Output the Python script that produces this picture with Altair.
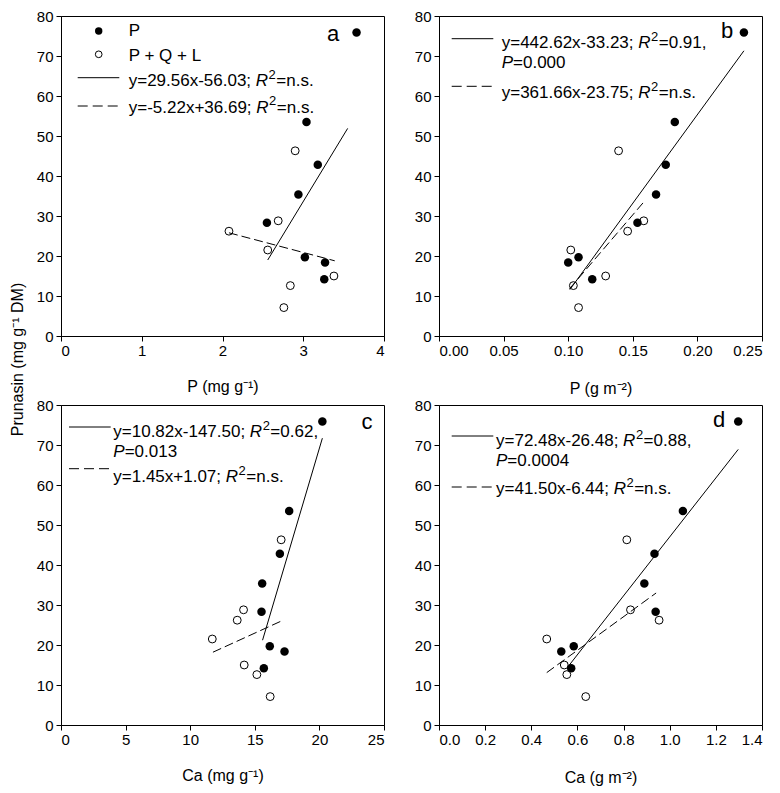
import altair as alt
import pandas as pd

FONT = "Liberation Sans"

# ---- data ----
prunasin_P = [75.9, 53.5, 42.8, 35.4, 28.3, 19.7, 18.4, 14.2]
prunasin_PQL = [46.3, 28.8, 26.2, 21.5, 15.0, 12.6, 7.1]

a_P_x = [3.66, 3.04, 3.18, 2.94, 2.55, 3.02, 3.27, 3.26]
a_PQL_x = [2.90, 2.69, 2.08, 2.56, 3.38, 2.84, 2.76]
b_P_x = [0.236, 0.1825, 0.1755, 0.168, 0.1536, 0.108, 0.100, 0.1186]
b_PQL_x = [0.139, 0.1585, 0.146, 0.102, 0.129, 0.104, 0.108]
c_P_x = [20.23, 17.66, 16.94, 15.57, 15.52, 16.16, 17.30, 15.70]
c_PQL_x = [17.04, 14.13, 13.64, 11.71, 14.18, 15.16, 16.19]
d_P_x = [1.297, 1.057, 0.934, 0.890, 0.939, 0.584, 0.530, 0.573]
d_PQL_x = [0.814, 0.830, 0.954, 0.467, 0.543, 0.554, 0.636]

# regression lines: end points (x, y)
a_fitP_x, a_fitP_y = [2.56, 3.55], [19.0, 51.9]
a_fitQ_x, a_fitQ_y = [2.08, 3.39], [25.8, 18.8]
b_fitP_x, b_fitP_y = [0.1013, 0.236], [11.6, 71.3]
b_fitQ_x, b_fitQ_y = [0.101, 0.1585], [11.8, 33.5]
c_fitP_x, c_fitP_y = [15.6, 20.23], [21.2, 71.7]
c_fitQ_x, c_fitQ_y = [11.76, 16.99], [18.2, 25.9]
d_fitP_x, d_fitP_y = [0.565, 1.297], [15.0, 68.9]
d_fitQ_x, d_fitQ_y = [0.467, 0.941], [13.1, 33.0]

y_ticks = [0, 10, 20, 30, 40, 50, 60, 70, 80]
a_ticks = [0, 1, 2, 3, 4]
b_ticks = [0.00, 0.05, 0.10, 0.15, 0.20, 0.25]
c_ticks = [0, 5, 10, 15, 20, 25]
d_ticks = [0.0, 0.2, 0.4, 0.6, 0.8, 1.0, 1.2, 1.4]

# ---- text helpers ----
W = {' ': 278, '(': 333, ')': 333, '+': 584, ',': 278, '-': 333, '.': 278,
     ';': 278, '=': 584, 'P': 667, 'Q': 778, 'L': 556, 'R': 722, 'y': 500,
     'x': 500, 'n': 556, 's': 500}
for dch in "0123456789":
    W[dch] = 556

LEG = 17
SUP = 13
dummy = pd.DataFrame({"k": [0]})


def width(s, size):
    return sum(W.get(ch, 556) for ch in s) * size / 1000.0


def txt(s, x, y, size=LEG, italic=False, align="left"):
    return alt.Chart(dummy).mark_text(
        text=s, align=align, baseline="alphabetic", font=FONT, fontSize=size,
        fontStyle="italic" if italic else "normal", color="black"
    ).encode(x=alt.value(x), y=alt.value(y))


def rich(segs, x0, y0):
    layers = []
    x = x0
    for s, kind in segs:
        if kind == "s":
            layers.append(txt(s, x + 0.5, y0 - 7.5, size=SUP))
            x += width(s, SUP) + 1
        else:
            layers.append(txt(s, x, y0, italic=(kind == "i")))
            x += width(s, LEG)
    return layers


def rule(x1, x2, y, dashed=False):
    kw = {"strokeDash": [10, 5]} if dashed else {}
    return alt.Chart(dummy).mark_rule(color="black", strokeWidth=1, **kw).encode(
        x=alt.value(x1), x2=alt.value(x2), y=alt.value(y))


def eq(text, tail):
    return [(text, "n"), ("R", "i"), ("2", "s"), (tail, "n")]


PW, PH = 323, 320


def panel(px, qx, fpx, fpy, fqx, fqy, xdom, xticks, xfmt, xtitle, xtitleY,
          letter, lpos, legend, ytitle=None):
    xsc = alt.Scale(domain=xdom, nice=False, zero=False)
    ysc = alt.Scale(domain=[0, 80], nice=False, zero=False)
    xax = alt.Axis(values=xticks, format=xfmt, title=xtitle, titleY=xtitleY,
                   titleBaseline="alphabetic")
    if ytitle:
        yax = alt.Axis(values=y_ticks, title=ytitle, titleX=-44, titleY=343,
                       titleAngle=270, titleAlign="center", titleBaseline="middle")
    else:
        yax = alt.Axis(values=y_ticks, title=None)
    X = alt.X("x:Q", scale=xsc, axis=xax)
    Y = alt.Y("y:Q", scale=ysc, axis=yax)

    dfP = pd.DataFrame({"x": px, "y": prunasin_P})
    dfQ = pd.DataFrame({"x": qx, "y": prunasin_PQL})
    dfFP = pd.DataFrame({"x": fpx, "y": fpy})
    dfFQ = pd.DataFrame({"x": fqx, "y": fqy})

    layers = [
        alt.Chart(dfQ).mark_point(shape="circle", filled=False, color="black",
                                  strokeWidth=1, size=62, opacity=1).encode(x=X, y=Y),
        alt.Chart(dfFP).mark_line(color="black", strokeWidth=1).encode(x=X, y=Y),
        alt.Chart(dfFQ).mark_line(color="black", strokeWidth=1,
                                  strokeDash=[9, 4]).encode(x=X, y=Y),
        alt.Chart(dfP).mark_circle(color="black", size=72, opacity=1).encode(x=X, y=Y),
    ]
    layers += legend
    layers.append(txt(letter, lpos[0], lpos[1], size=22, align="center"))
    return alt.layer(*layers).properties(width=PW, height=PH)


# legends
leg_a = [
    alt.Chart(dummy).mark_circle(color="black", size=55, opacity=1).encode(
        x=alt.value(37.7), y=alt.value(15)),
    alt.Chart(dummy).mark_point(shape="circle", filled=False, color="black",
                                strokeWidth=1, size=45, opacity=1).encode(
        x=alt.value(37.7), y=alt.value(38.3)),
    txt("P", 67.7, 20),
    txt("P + Q + L", 67.7, 45),
    rule(16.7, 58.3, 61.7),
    rule(16.7, 58.3, 90, dashed=True),
] + rich(eq("y=29.56x-56.03; ", "=n.s."), 67.7, 70) \
  + rich(eq("y=-5.22x+36.69; ", "=n.s."), 67.7, 96.7)

leg_b = [
    rule(12.7, 54.3, 22.7),
    rule(12.7, 54.3, 70.3, dashed=True),
] + rich(eq("y=442.62x-33.23; ", "=0.91,"), 62.7, 32) \
  + rich([("P", "i"), ("=0.000", "n")], 62.7, 52) \
  + rich(eq("y=361.66x-23.75; ", "=n.s."), 62.7, 82)

leg_c = [
    rule(8, 49.7, 22),
    rule(8, 49.7, 63.7, dashed=True),
] + rich(eq("y=10.82x-147.50; ", "=0.62,"), 52.3, 32) \
  + rich([("P", "i"), ("=0.013", "n")], 52.3, 52) \
  + rich(eq("y=1.45x+1.07; ", "=n.s."), 52.3, 77)

leg_d = [
    rule(12.7, 54.3, 31),
    rule(12.7, 54.3, 82, dashed=True),
] + rich(eq("y=72.48x-26.48; ", "=0.88,"), 57, 41) \
  + rich([("P", "i"), ("=0.0004", "n")], 57, 61) \
  + rich(eq("y=41.50x-6.44; ", "=n.s."), 57, 89.3)

pa = panel(a_P_x, a_PQL_x, a_fitP_x, a_fitP_y, a_fitQ_x, a_fitQ_y, [0, 4], a_ticks,
           "d", "P (mg g⁻¹)", 55, "a", (272, 25), leg_a,
           ytitle="Prunasin (mg g⁻¹ DM)")
pb = panel(b_P_x, b_PQL_x, b_fitP_x, b_fitP_y, b_fitQ_x, b_fitQ_y, [0, 0.25], b_ticks,
           ".2f", "P (g m⁻²)", 57, "b", (288, 22), leg_b)
pc = panel(c_P_x, c_PQL_x, c_fitP_x, c_fitP_y, c_fitQ_x, c_fitQ_y, [0, 25], c_ticks,
           "d", "Ca (mg g⁻¹)", 55, "c", (306, 24), leg_c)
pd_ = panel(d_P_x, d_PQL_x, d_fitP_x, d_fitP_y, d_fitQ_x, d_fitQ_y, [0, 1.4], d_ticks,
            ".1f", "Ca (g m⁻²)", 57, "d", (280, 22), leg_d)

chart = alt.concat(
    pa, pb, pc, pd_, columns=2, spacing={"row": 69, "column": 55}, bounds="flush"
).properties(
    padding={"left": 0, "top": 0, "right": 0, "bottom": 0}
).configure_view(
    stroke="black", strokeWidth=1
).configure_axis(
    grid=False, domain=True, domainColor="black", domainWidth=1,
    ticks=True, tickColor="black", tickSize=5, tickWidth=1,
    labelFont=FONT, labelFontSize=15, labelColor="black", labelPadding=2,
    titleFont=FONT, titleFontSize=16, titleFontWeight="normal", titleColor="black"
).configure_axisY(labelPadding=3)

chart.save("out.html", embed_options={"renderer": "svg", "actions": False})
